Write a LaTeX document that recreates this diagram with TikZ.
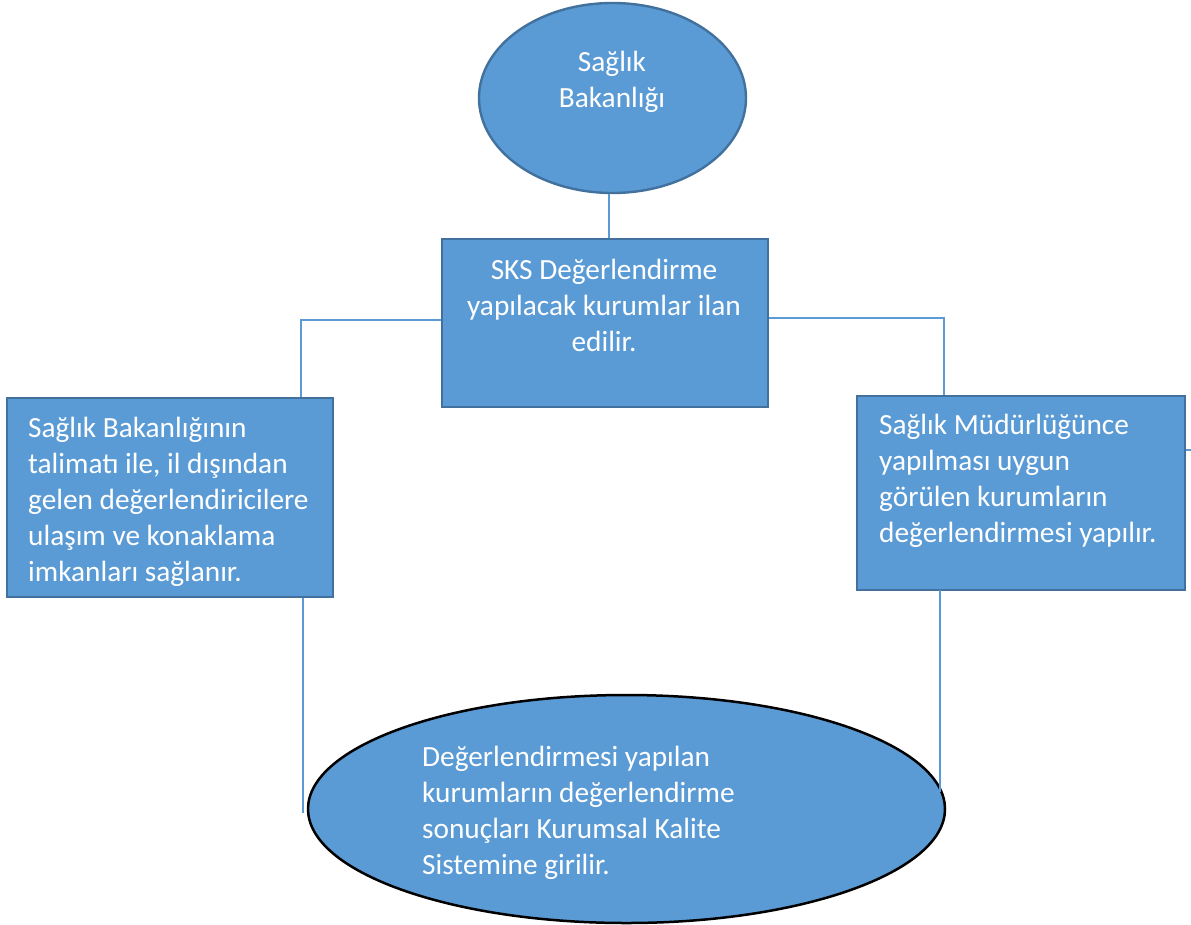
\documentclass[tikz,border=0pt]{standalone}
\usepackage{fontspec}
\setmainfont{Carlito}
\usetikzlibrary{shapes.geometric,calc}
\definecolor{boxfill}{HTML}{5B9BD5}
\definecolor{boxedge}{HTML}{41719C}
\definecolor{linkc}{HTML}{5B9BD5}
\begin{document}
\begin{tikzpicture}[x=1pt,y=-1pt,
  box/.style={draw=boxedge,line width=2.8pt,fill=boxfill,rectangle,inner sep=0pt},
  oval/.style={fill=boxfill,ellipse,inner sep=0pt},
  txt/.style={text=white,inner sep=0pt,font=\fontsize{29.3}{36}\selectfont},
  link/.style={draw=linkc,line width=1.4pt}]
\useasboundingbox (0,0) rectangle (1191,924);
% shapes
\node[oval,draw=boxedge,line width=2.4pt,minimum width=267pt,minimum height=190pt] (top) at (612.5,98) {};
\node[box,minimum width=326pt,minimum height=168pt] (mid) at (605,323) {};
\node[box,minimum width=326pt,minimum height=199pt] (left) at (170,497.5) {};
\node[box,minimum width=328pt,minimum height=194pt] (right) at (1021,493) {};
\node[oval,draw=black,line width=2.5pt,minimum width=637pt,minimum height=228pt] (bot) at (626.5,809) {};
% texts (anchored at the baseline of the last line)
\node[txt,anchor=base,align=center] (toptxt) at (612,107) {Sağlık\\Bakanlığı};
\node[txt,anchor=base,align=center] (midtxt) at (604,351) {SKS Değerlendirme\\yapılacak kurumlar ilan\\edilir.};
\node[txt,anchor=base west,align=left] (lefttxt) at (28,581) {Sağlık Bakanlığının\\talimatı ile, il dışından\\gelen değerlendiricilere\\ulaşım ve konaklama\\imkanları sağlanır.};
\node[txt,anchor=base west,align=left] (righttxt) at (879,542) {Sağlık Müdürlüğünce\\yapılması uygun\\görülen kurumların\\değerlendirmesi yapılır.};
\node[txt,anchor=base west,align=left] (bottxt) at (422,874) {Değerlendirmesi yapılan\\kurumların değerlendirme\\sonuçları Kurumsal Kalite\\Sistemine girilir.};
% connector end points
\coordinate (tj) at (609,194);
\coordinate (lj) at (301,397);
\coordinate (rj) at (944,395);
\coordinate (lend) at (303,813);
\coordinate (rstart) at (940,590);
\coordinate (rend) at (940,792);
\coordinate (stubend) at (1191,450);
% connectors
\draw[link] (tj) -- (tj |- mid.north);
\draw[link] ([yshift=3pt]mid.west) -| (lj);
\draw[link] ([yshift=5pt]mid.east) -| (rj);
\draw[link] (lend |- left.south) -- (lend);
\draw[link] (rstart) -- (rend);
\draw[link] (right.east |- stubend) -- (stubend);
\end{tikzpicture}
\end{document}
